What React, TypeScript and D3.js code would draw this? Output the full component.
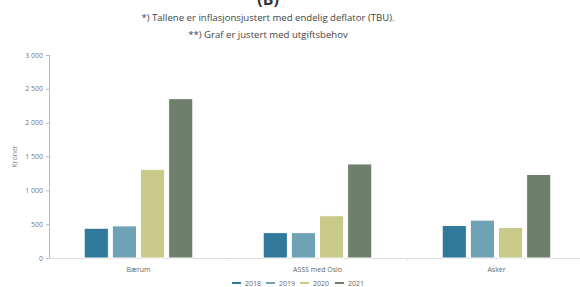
import React from "react";
import * as d3 from "d3";

const categories = ["Bærum", "ASSS med Oslo", "Asker"];
const years = ["2018", "2019", "2020", "2021"];
const v2018 = [440, 375, 480];
const v2019 = [475, 375, 560];
const v2020 = [1310, 625, 450];
const v2021 = [2355, 1390, 1235];
const seriesValues = [v2018, v2019, v2020, v2021];
const yTicks = [0, 500, 1000, 1500, 2000, 2500, 3000];
const colors = ["#31799a", "#6fa2b5", "#c9ca8a", "#6e806b"];
const titleText = "(B)";
const subtitle1 = "*) Tallene er inflasjonsjustert med endelig deflator (TBU).";
const subtitle2 = "**) Graf er justert med utgiftsbehov";
const yTitle = "Kroner";

const W = 580;
const H = 287;
const left = 49;
const right = 586;
const top = 55;
const bottom = 258;

export default function App() {
  const x0 = d3.scaleBand<string>().domain(categories).range([left, right]).paddingInner(0).paddingOuter(0);
  const x1 = d3.scaleBand<string>().domain(years).range([0, x0.bandwidth()]).paddingInner(0.14).paddingOuter(1.25);
  const y = d3.scaleLinear().domain([0, 3000]).range([bottom, top]);
  const fmt = (v: number) => d3.format(",")(v).replace(/,/g, " ");
  const font = "'Open Sans', sans-serif";
  const legendX = [232, 266, 300, 335];
  return (
    <svg width={W} height={H} style={{ position: "absolute", left: 0, top: 0, fontFamily: font }}>
      <rect width={W} height={H} fill="#fff" />
      <text x={268} y={5} textAnchor="middle" fontSize={16} fontWeight={700} fill="#333">{titleText}</text>
      <text x={268} y={21} textAnchor="middle" fontSize={9.6} fill="#444">{subtitle1}</text>
      <text x={268} y={38} textAnchor="middle" fontSize={9.6} fill="#444">{subtitle2}</text>
      {/* x axis */}
      <line x1={left} x2={W} y1={bottom + 0.5} y2={bottom + 0.5} stroke="#ddd" />
      {categories.map((c, i) => (
        i > 0 ? <line key={"t" + c} x1={x0(c)!} x2={x0(c)!} y1={bottom} y2={bottom + 3} stroke="#ddd" /> : null
      ))}
      {/* y axis */}
      <line x1={left + 0.5} x2={left + 0.5} y1={top} y2={bottom} stroke="#bbb" />
      {yTicks.map((t) => (
        <g key={t}>
          <line x1={left - 3} x2={left} y1={y(t) + 0.5} y2={y(t) + 0.5} stroke="#bbb" />
          <text x={left - 6} y={y(t) + 2.5} textAnchor="end" fontSize={7} fill="#777">{fmt(t)}</text>
        </g>
      ))}
      <text transform={`translate(17,${(top + bottom) / 2}) rotate(-90)`} textAnchor="middle" fontSize={7} fill="#888">{yTitle}</text>
      {categories.map((c, ci) => (
        <g key={c} transform={`translate(${x0(c)},0)`}>
          {years.map((yr, si) => {
            const v = seriesValues[si][ci];
            return (
              <rect key={yr} x={x1(yr)!} y={y(v)} width={x1.bandwidth()} height={bottom - y(v)}
                fill={colors[si]} stroke="#fff" strokeWidth={1} />
            );
          })}
          <text x={x0.bandwidth() / 2} y={272} textAnchor="middle" fontSize={7} fill="#666">{c}</text>
        </g>
      ))}
      {years.map((yr, i) => (
        <g key={"l" + yr} transform={`translate(${legendX[i]},283)`}>
          <line x1={0} x2={9} y1={0} y2={0} stroke={colors[i]} strokeWidth={2} />
          <text x={13} y={2.5} fontSize={7} fill="#666">{yr}</text>
        </g>
      ))}
    </svg>
  );
}
